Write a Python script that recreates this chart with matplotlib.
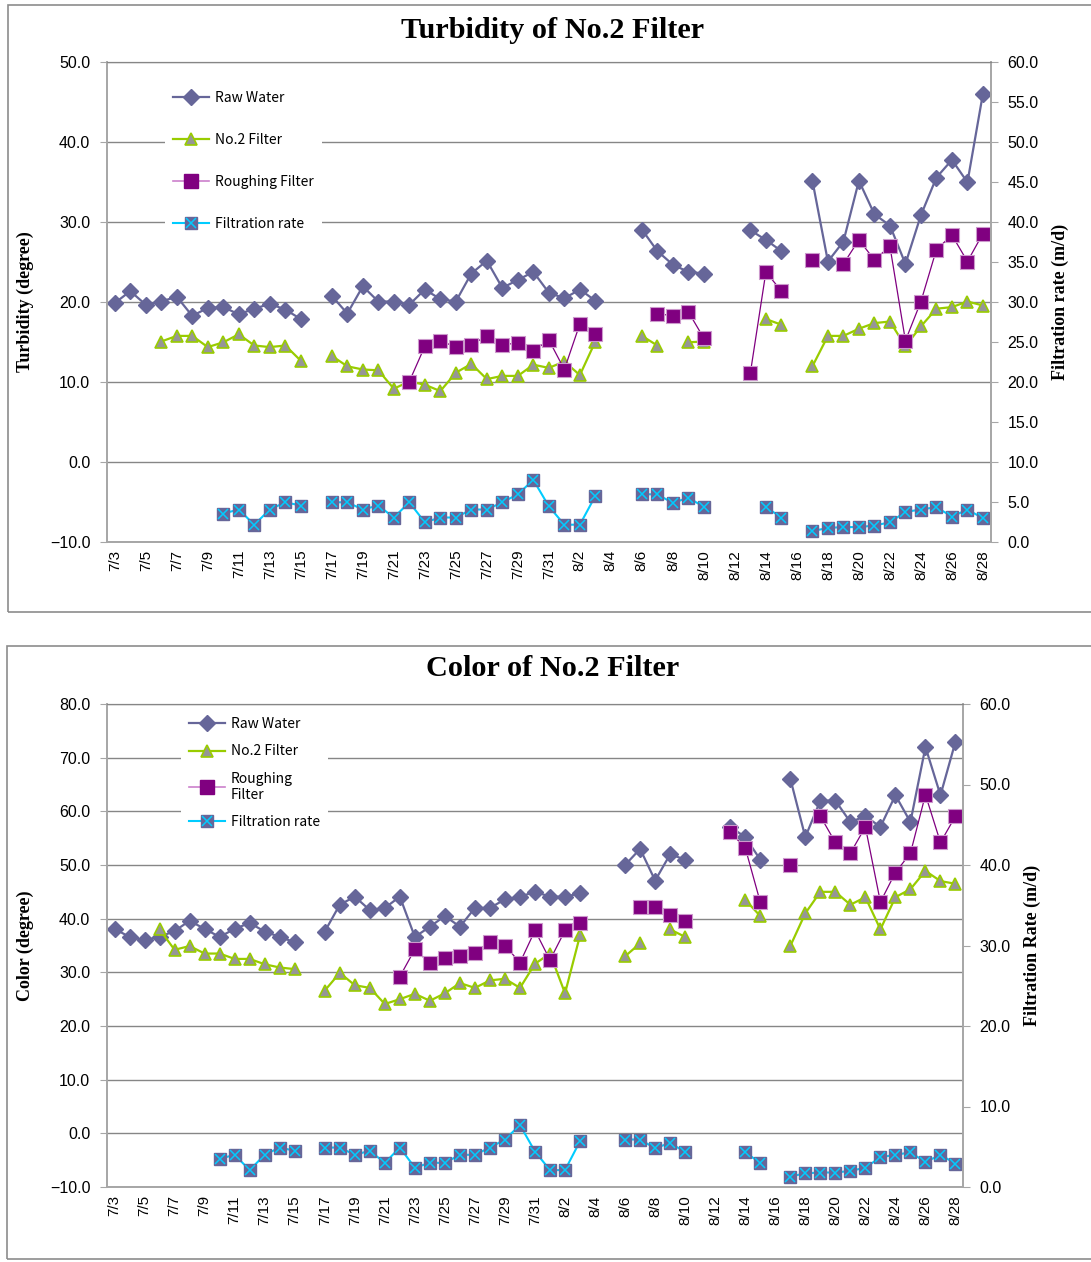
"""
Turbidity and colour of No.2 filter, July-August daily readings
"""
import numpy as np
import matplotlib
matplotlib.use("Agg")
import matplotlib.pyplot as plt
from matplotlib.lines import Line2D
from matplotlib.patches import Rectangle
from matplotlib.legend_handler import HandlerTuple
from matplotlib.ticker import FixedLocator, FuncFormatter

nan = np.nan

# 7/3 .. 8/28, one reading per day
dates = [f"7/{d}" for d in range(3, 32)] + [f"8/{d}" for d in range(1, 29)]

turb_raw = [19.8, 21.3, 19.6, 20.0, 20.6, 18.2, 19.2, 19.3, 18.4, 19.1, 19.7, 19.0, 17.8, nan,
            20.7, 18.5, 21.9, 20.0, 20.0, 19.6, 21.5, 20.3, 20.0, 23.5, 25.1, 21.7, 22.7, 23.7,
            21.1, 20.4, 21.5, 20.1, nan, nan, 29.0, 26.3, 24.6, 23.7, 23.5, nan, nan, 28.9,
            27.7, 26.3, nan, 35.1, 25.0, 27.5, 35.1, 30.9, 29.5, 24.7, 30.8, 35.5, 37.7, 34.9, 46.0]
turb_no2 = [nan, nan, nan, 15.0, 15.7, 15.7, 14.3, 14.9, 15.9, 14.5, 14.3, 14.5, 12.6, nan,
            13.2, 11.9, 11.5, 11.4, 9.1, 10.0, 9.6, 8.8, 11.1, 12.2, 10.3, 10.7, 10.7, 12.1,
            11.7, 12.5, 10.8, 15.0, nan, nan, 15.7, 14.5, nan, 14.9, 15.0, nan, nan, nan,
            17.8, 17.1, nan, 11.9, 15.7, 15.7, 16.6, 17.3, 17.5, 14.4, 16.9, 19.1, 19.3, 20.0, 19.5]
turb_rough = [nan] * 19 + [10.0, 14.4, 15.1, 14.3, 14.6, 15.7, 14.6, 14.8, 13.8,
              15.2, 11.5, 17.2, 16.0, nan, nan, nan, 18.5, 18.2, 18.7, 15.4, nan, nan, 11.1,
              23.7, 21.3, nan, 25.2, nan, 24.7, 27.7, 25.2, 26.9, 15.1, 20.0, 26.5, 28.3, 25.0, 28.5]

color_raw = [38.1, 36.6, 36.0, 36.6, 37.7, 39.6, 38.1, 36.6, 38.1, 39.2, 37.6, 36.6, 35.6, nan,
             37.6, 42.6, 44.1, 41.6, 42.0, 44.1, 36.6, 38.5, 40.5, 38.5, 42.0, 42.0, 43.6, 44.1,
             45.0, 44.1, 44.1, 44.7, nan, nan, 50.0, 53.0, 47.1, 52.0, 51.0, nan, nan, 57.1,
             55.2, 51.0, nan, 66.1, 55.2, 62.0, 62.0, 58.0, 59.1, 57.1, 63.0, 58.0, 72.0, 63.0, 73.0]
color_no2 = [nan, nan, nan, 38.0, 34.2, 34.9, 33.5, 33.5, 32.5, 32.5, 31.5, 30.9, 30.6, nan,
             26.6, 29.9, 27.6, 27.1, 24.1, 25.0, 26.0, 24.7, 26.1, 28.0, 27.1, 28.5, 28.8, 27.1,
             31.6, 33.5, 26.1, 36.9, nan, nan, 33.0, 35.4, nan, 38.0, 36.6, nan, nan, nan,
             43.5, 40.5, nan, 34.9, 41.0, 45.0, 45.0, 42.6, 44.0, 38.0, 44.0, 45.5, 48.9, 47.0, 46.5]
color_rough = [nan] * 19 + [29.2, 34.3, 31.7, 32.6, 33.1, 33.6, 35.7, 35.0, 31.8,
               37.8, 32.3, 37.8, 39.2, nan, nan, nan, 42.1, 42.1, 40.6, 39.6, nan, nan, 56.1,
               53.2, 43.1, nan, 50.0, nan, 59.1, 54.2, 52.2, 57.1, 43.1, 48.6, 52.2, 63.1, 54.2, 59.1]

filt_rate = [nan] * 7 + [3.5, 4.0, 2.1, 4.0, 4.9, 4.5, nan, 4.9, 4.9, 4.0, 4.5, 3.0, 4.9, 2.4,
             3.0, 3.0, 4.0, 4.0, 4.9, 5.9, 7.7, 4.4, 2.1, 2.1, 5.7, nan, nan, 5.9, 5.9, 4.8,
             5.5, 4.3, nan, nan, nan, 4.3, 3.0, nan, 1.3, 1.7, 1.8, 1.8, 2.0, 2.4, 3.7, 4.0,
             4.3, 3.1, 4.0, 2.9]

W, H = 1091, 1262

RAW_C = "#666699"
GREEN_C = "#99CC00"
TRI_FILL = "#969696"
PURPLE_C = "#800080"
CYAN_C = "#00CCFF"
GRID_C = "#868686"
AXIS_C = "#A6A6A6"

SERIF = "Liberation Serif"
SANS = "Liberation Sans"
LEG_FONT = ["Noto Sans CJK JP", "DejaVu Sans"]


def px_axes(fig, left, top, right, bottom):
    """Add axes given pixel edges (top-left origin)"""
    return fig.add_axes([left / W, 1 - bottom / H, (right - left) / W, (bottom - top) / H])


def fmt(v, pos):
    s = f"{abs(v):.1f}"
    return ("\u2212" + s) if v < 0 else s


def draw_panel(fig, box, plot_px, title, title_y, ylabel, y2label, y2label_x,
               raw, no2, rough, ylim, ystep, y2step):
    # outer chart frame
    bx0, by0, bx1, by1 = box
    fig.patches.append(Rectangle((bx0 / W, 1 - by1 / H), (bx1 - bx0) / W, (by1 - by0) / H,
                                 transform=fig.transFigure, fill=False,
                                 edgecolor="#8C8C8C", linewidth=1.2))

    ax = px_axes(fig, *plot_px)
    ax2 = ax.twinx()
    x = np.arange(len(dates))

    ax.plot(x, raw, color=RAW_C, lw=1.6, marker="D", ms=8, mfc=RAW_C, mec=RAW_C)
    ax.plot(x, no2, color=GREEN_C, lw=1.6, marker="^", ms=9, mfc=TRI_FILL, mec=GREEN_C, mew=1.2)
    ax.plot(x, rough, color=PURPLE_C, lw=0.9, marker="s", ms=9.5, mfc=PURPLE_C,
            mec="#CC99CC", mew=0.8)
    ax2.plot(x, filt_rate, color=CYAN_C, lw=1.5, marker="s", ms=8.5, mfc=RAW_C, mec=RAW_C)
    ax2.plot(x, filt_rate, ls="none", marker="x", ms=7, mec=CYAN_C, mew=1.1)

    ax.set_xlim(-0.5, len(dates) - 0.5)
    ax.set_ylim(*ylim)
    ax2.set_ylim(0, 60)
    ax.yaxis.set_major_locator(FixedLocator(np.arange(ylim[0], ylim[1] + 0.1, ystep)))
    ax2.yaxis.set_major_locator(FixedLocator(np.arange(0, 60.1, y2step)))
    ax.yaxis.set_major_formatter(FuncFormatter(fmt))
    ax2.yaxis.set_major_formatter(FuncFormatter(fmt))

    ax.set_xticks(x[::2])
    ax.set_xticklabels(dates[::2], rotation=90, fontfamily=SANS, fontsize=11)
    ax.tick_params(axis="x", length=0, pad=6)
    ax.tick_params(axis="y", direction="out", length=5, color=AXIS_C, pad=7,
                   labelsize=11.5)
    ax2.tick_params(axis="y", direction="out", length=5, color=AXIS_C, pad=7,
                    labelsize=11.5)
    for lab in ax.get_yticklabels() + ax2.get_yticklabels():
        lab.set_fontfamily(SANS)

    ax.grid(axis="y", color=GRID_C, lw=1)
    ax.set_axisbelow(True)
    for a in (ax, ax2):
        for side in ("left", "right", "bottom"):
            a.spines[side].set_color(AXIS_C)
            a.spines[side].set_linewidth(1.2)
        a.spines["top"].set_color(GRID_C)

    fig.text(553 / W, 1 - title_y / H, title,
             ha="center", va="center", fontfamily=SERIF, fontweight="bold", fontsize=21.8)
    ymid = 1 - (plot_px[1] + plot_px[3]) / 2 / H
    fig.text(25 / W, ymid, ylabel, rotation=90, ha="center", va="center",
             fontfamily=SERIF, fontweight="bold", fontsize=13)
    fig.text(y2label_x / W, ymid, y2label, rotation=90, ha="center", va="center",
             fontfamily=SERIF, fontweight="bold", fontsize=13)
    return ax, ax2


def add_legend(ax2, anchor, rough_label, spacing):
    h_raw = Line2D([], [], color=RAW_C, lw=1.6, marker="D", ms=8, mfc=RAW_C, mec=RAW_C)
    h_no2 = Line2D([], [], color=GREEN_C, lw=1.6, marker="^", ms=9, mfc=TRI_FILL,
                   mec=GREEN_C, mew=1.2)
    h_rough = Line2D([], [], color="#CC80CC", lw=1.2, marker="s", ms=9.5, mfc=PURPLE_C,
                     mec=PURPLE_C)
    h_f1 = Line2D([], [], color=CYAN_C, lw=1.5, marker="s", ms=8.5, mfc=RAW_C, mec=RAW_C)
    h_f2 = Line2D([], [], ls="none", marker="x", ms=7, mec=CYAN_C, mew=1.1)
    leg = ax2.legend([h_raw, h_no2, h_rough, (h_f1, h_f2)],
                     ["Raw Water", "No.2 Filter", rough_label, "Filtration rate"],
                     handler_map={tuple: HandlerTuple(ndivide=1, pad=0)},
                     loc="upper left", bbox_to_anchor=(anchor[0] / W, 1 - anchor[1] / H),
                     bbox_transform=ax2.figure.transFigure,
                     frameon=True, facecolor="white", edgecolor="none", framealpha=1,
                     fancybox=False, labelspacing=spacing, handlelength=2.6,
                     handletextpad=0.4, borderpad=0.6,
                     prop={"family": LEG_FONT, "size": 10})
    leg.set_zorder(10)
    return leg


def main():
    fig = plt.figure(figsize=(W / 100, H / 100), dpi=100)

    ax, ax2 = draw_panel(fig, (8, 5, 1100, 612), (107, 61.5, 990.7, 541.5),
                         "Turbidity of No.2 Filter", 30,
                         "Turbidity (degree)", "Filtration rate (m/d)", 1060,
                         turb_raw, turb_no2, turb_rough, (-10, 50), 10, 5)
    add_legend(ax2, (158, 76), "Roughing Filter", 2.0)

    bx, bx2 = draw_panel(fig, (7, 646, 1100, 1259), (107, 704, 963, 1187),
                         "Color of No.2 Filter", 669,
                         "Color (degree)", "Filtration Rate (m/d)", 1032,
                         color_raw, color_no2, color_rough, (-10, 80), 10, 10)
    add_legend(bx2, (174, 702), "Roughing\nFilter", 0.95)

    fig.savefig("out.png", dpi=100)


if __name__ == "__main__":
    main()
